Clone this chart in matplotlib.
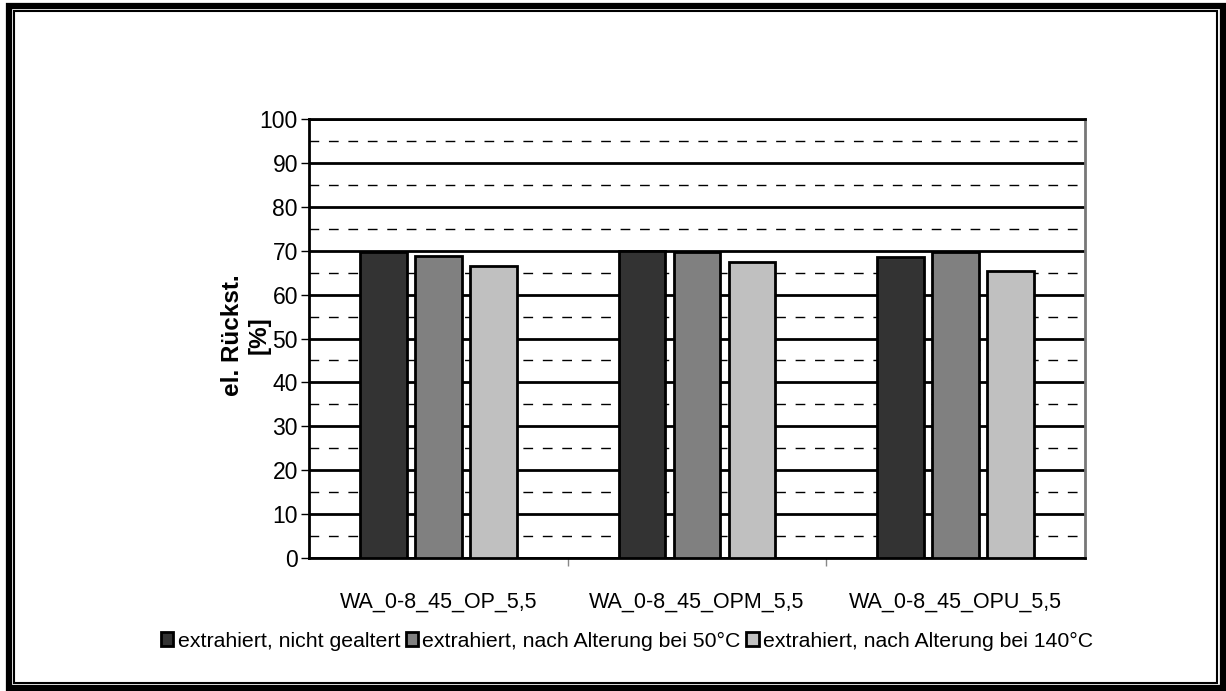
import numpy as np
import matplotlib.pyplot as plt
from matplotlib.patches import Rectangle

categories = ['WA_0-8_45_OP_5,5', 'WA_0-8_45_OPM_5,5', 'WA_0-8_45_OPU_5,5']
series_names = ['extrahiert, nicht gealtert',
                'extrahiert, nach Alterung bei 50°C',
                'extrahiert, nach Alterung bei 140°C']
nicht_gealtert = [69.6, 69.9, 68.5]
alterung_50 = [68.9, 69.6, 69.6]
alterung_140 = [66.5, 67.4, 65.4]
colors = ['#333333', '#808080', '#c0c0c0']

plt.rcParams['font.family'] = ['Liberation Sans', 'DejaVu Sans']

fig = plt.figure(figsize=(12.26, 6.91), dpi=100)
ax = fig.add_axes([309 / 1226, 1 - 558 / 691, 776 / 1226, 439 / 691])

x = np.arange(len(categories))
width = 0.18
step = 0.213
for i, (vals, name) in enumerate(zip([nicht_gealtert, alterung_50, alterung_140], series_names)):
    ax.bar(x + (i - 1) * step, vals, width, color=colors[i], edgecolor='black',
           linewidth=2, label=name, zorder=3)

ax.set_xlim(-0.5, 2.5)
ax.set_ylim(0, 100)
ax.set_yticks(np.arange(0, 101, 10))
ax.set_yticks(np.arange(5, 100, 10), minor=True)
ax.grid(axis='y', which='major', color='black', linewidth=2, zorder=1)
ax.grid(axis='y', which='minor', color='black', linewidth=1, linestyle=(0, (7, 7)), zorder=1)
ax.tick_params(axis='y', which='major', labelsize=16.5, length=6, width=1, direction='out', pad=2)
ax.tick_params(axis='y', which='minor', length=0)

ax.set_xticks(x)
ax.set_xticklabels(categories, fontsize=15.5)
ax.tick_params(axis='x', length=0, pad=24)
ax.set_xticks([0.5, 1.5], minor=True)
ax.tick_params(axis='x', which='minor', length=6, width=1, color='#888888')

for s in ['left', 'top', 'bottom']:
    ax.spines[s].set_linewidth(2)
    ax.spines[s].set_color('black')
ax.spines['right'].set_linewidth(2)
ax.spines['right'].set_color('#777777')

ax.set_ylabel('el. Rückst.\n[%]', fontsize=17.5, fontweight='bold')
ax.yaxis.set_label_coords(-0.05, 0.508)

ax.legend(loc='center', bbox_to_anchor=(627 / 1226, 1 - 641 / 691),
          bbox_transform=fig.transFigure, ncol=3, frameon=False, fontsize=15.3,
          handlelength=0.6, handleheight=0.6, handletextpad=0.2, columnspacing=0.25)

# double frame around the whole chart
fig.patches.append(Rectangle((9 / 1226, 3.5 / 691), 1214 / 1226, 682 / 691,
                             transform=fig.transFigure, fill=False,
                             edgecolor='black', linewidth=4.5))
fig.patches.append(Rectangle((14 / 1226, 8 / 691), 1203 / 1226, 672 / 691,
                             transform=fig.transFigure, fill=False,
                             edgecolor='black', linewidth=1.5))

fig.savefig('out.png', dpi=100)
